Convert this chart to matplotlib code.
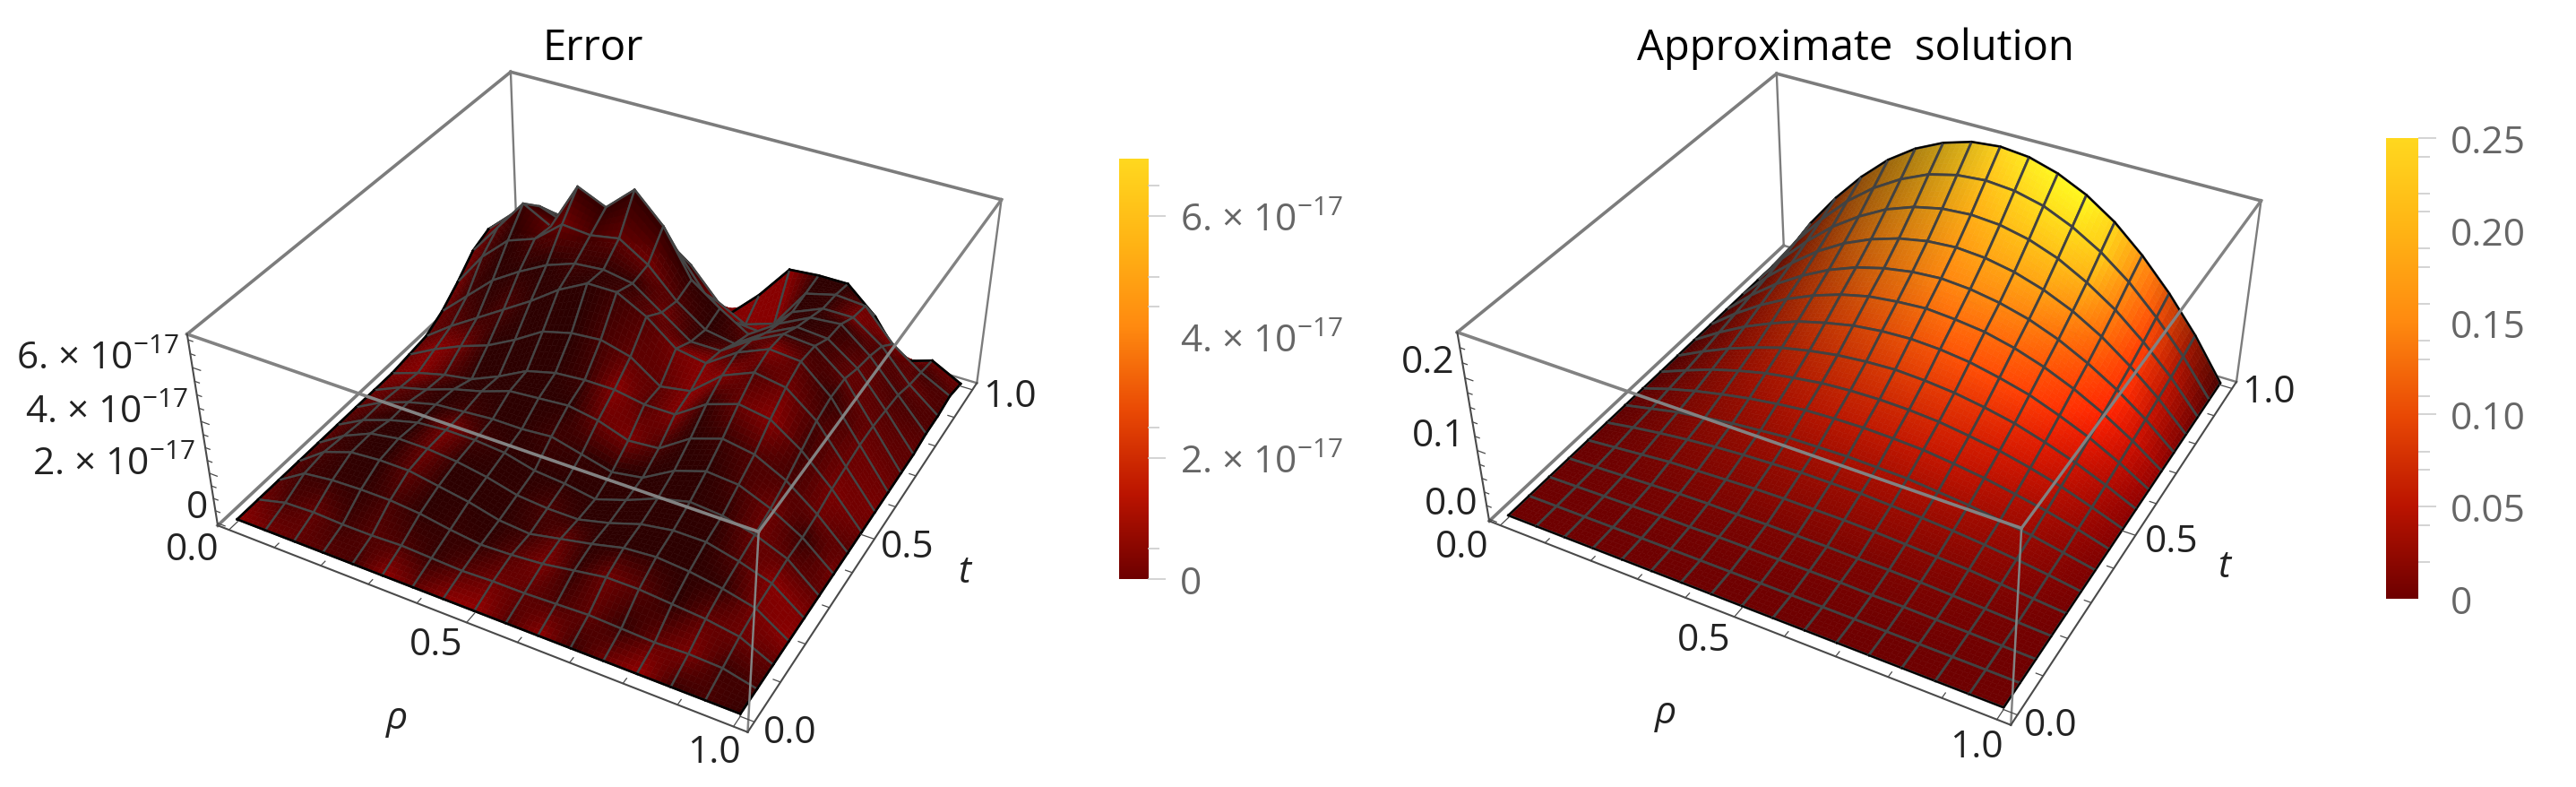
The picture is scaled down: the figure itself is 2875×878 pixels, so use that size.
import numpy as np
import matplotlib
matplotlib.use('Agg')
import matplotlib.pyplot as plt
from matplotlib.colors import LinearSegmentedColormap, to_rgb

plt.rcParams['font.family'] = ['Open Sans', 'DejaVu Sans']
plt.rcParams['mathtext.fontset'] = 'custom'
plt.rcParams['mathtext.rm'] = 'Open Sans'
plt.rcParams['mathtext.it'] = 'Open Sans:italic'
plt.rcParams['mathtext.default'] = 'regular'

W, H = 2875, 879

# grid of the two surfaces
rho = [i / 16 for i in range(17)]
tt = [i / 16 for i in range(17)]

# error surface in units of 1e-17, rows go with t, columns with rho
error_z = [
    [.00, .00, .00, .00, .00, .00, .00, .00, .00, .00, .00, .00, .00, .00, .00, .00, .00],
    [.00, .30, .35, .30, .30, .35, .30, .25, .30, .30, .35, .40, .35, .30, .35, .30, .00],
    [.00, .70, .85, .90, .90, .80, .60, .45, .50, .60, .80, 1.0, 1.0, .90, .80, .60, .00],
    [.00, .80, 1.2, 1.3, 1.3, 1.1, .90, .60, .50, .75, 1.0, 1.3, 1.4, 1.3, 1.1, .80, .00],
    [.00, .70, 1.2, 1.4, 1.4, 1.3, 1.1, .80, .70, .70, 1.0, 1.4, 1.6, 1.6, 1.3, .90, .00],
    [.00, .60, 1.0, 1.3, 1.4, 1.4, 1.3, 1.0, .90, .70, 1.1, 1.6, 1.9, 1.8, 1.5, 1.0, .00],
    [.00, .60, 1.0, 1.3, 1.4, 1.5, 1.5, 1.6, 1.3, 1.0, 1.2, 1.9, 2.3, 2.2, 1.7, 1.0, .00],
    [.00, .50, .80, 1.2, 1.5, 1.9, 2.0, 2.1, 1.9, 1.5, 1.6, 2.4, 2.8, 2.6, 2.0, 1.1, .00],
    [.00, .40, .70, .90, 1.4, 2.0, 2.3, 2.4, 2.4, 2.2, 2.2, 3.0, 3.4, 3.2, 2.4, 1.3, .00],
    [.10, .70, 1.2, 1.6, 2.2, 2.9, 3.2, 3.3, 3.0, 2.2, 2.4, 3.4, 3.9, 3.7, 2.8, 1.4, .00],
    [.20, 1.0, 1.7, 2.4, 3.1, 3.9, 4.5, 4.5, 3.9, 3.0, 2.8, 3.6, 4.1, 4.0, 3.0, 1.5, .00],
    [.60, 1.6, 2.6, 3.3, 3.9, 4.3, 4.4, 4.2, 3.4, 2.6, 2.6, 3.4, 4.0, 3.9, 3.0, 1.5, .00],
    [1.2, 2.6, 3.6, 4.0, 4.9, 4.8, 5.0, 4.3, 3.2, 2.4, 2.2, 3.0, 3.6, 3.5, 2.7, 1.4, .00],
    [1.9, 3.2, 4.5, 3.9, 5.8, 5.3, 6.3, 5.2, 3.4, 2.6, 1.9, 2.7, 3.3, 3.4, 2.5, 1.3, .10],
    [2.2, 3.2, 3.8, 3.4, 4.4, 4.0, 4.4, 3.6, 2.2, 1.4, 1.3, 2.5, 3.0, 3.0, 2.2, 1.0, .10],
    [2.0, 2.6, 2.9, 2.8, 3.2, 3.0, 3.2, 2.4, 1.2, .60, 1.0, 2.6, 2.9, 2.8, 1.6, .80, .20],
    [.90, 1.0, 1.2, 1.5, 1.8, 2.0, 1.5, .50, .05, 1.2, 2.6, 2.7, 2.7, 1.7, .20, .60, .00],
]

# brightness of the dark red blotches on the error surface, 0 dark .. 1 bright
error_shade = [
    [.90, .70, .60, .50, .40, .90, .60, .90, .95, .50, .90, .30, .70, .95, .30, .40, .20],
    [.70, .40, .60, .30, .50, .40, .20, .50, .70, .60, .40, .60, .20, .60, .80, .30, .40],
    [.50, .30, .20, .15, .40, .10, .20, .15, .50, .80, .20, .70, .50, .10, .60, .70, .60],
    [.50, .35, .15, .10, .60, .10, .10, .10, .30, .60, .10, .10, .10, .10, .20, .80, .95],
    [.60, .20, .10, .10, .70, .10, .10, .15, .40, .10, .10, .10, .10, .10, .50, .90, .80],
    [.50, .30, .10, .10, .80, .30, .10, .10, .10, .10, .10, .10, .10, .20, .70, .50, .60],
    [.60, .50, .30, .10, .30, .10, .10, .30, .20, .10, .05, .10, .10, .40, .70, .20, .80],
    [.70, .60, .30, .10, .10, .10, .10, .10, .70, .80, .40, .10, .30, .50, .40, .70, .50],
    [.80, .90, .50, .10, .10, .10, .10, .30, .90, .50, .90, .20, .70, .90, .30, .80, .70],
    [.70, .90, .70, .10, .10, .10, .05, .40, .60, .60, .90, .90, .50, .70, .40, .70, .80],
    [.60, .50, .20, .40, .10, .10, .10, .30, .50, .80, .90, .20, .90, .50, .20, .70, .70],
    [.70, .30, .10, .10, .10, .30, .20, .20, .70, .20, .50, .80, .20, .30, .60, .60, .60],
    [.80, .40, .10, .40, .70, .40, .60, .70, .40, .10, .30, .50, .10, .30, .60, .50, .60],
    [.70, .50, .30, .70, .20, .10, .10, .10, .10, .10, .60, .30, .10, .20, .50, .40, .50],
    [.80, .60, .20, .10, .10, .10, .10, .10, .70, .80, .90, .10, .20, .80, .40, .60, .40],
    [.70, .50, .20, .10, .10, .10, .20, .10, .80, .90, .90, .10, .20, .70, .90, .30, .50],
    [.70, .70, .20, .10, .10, .10, .50, .70, .90, .90, .90, .10, .10, .50, .90, .70, .70],
]

# approximate solution, rows go with t, columns with rho
approx_z = [
    [0, 0, 0, 0, 0, 0, 0, 0, 0, 0, 0, 0, 0, 0, 0, 0, 0],
    [0, .0003, .0005, .0007, .0009, .001, .0011, .0012, .0012, .0012, .0011, .001, .0009, .0007, .0005, .0003, 0],
    [0, .001, .002, .003, .004, .004, .005, .005, .005, .005, .005, .004, .004, .003, .002, .001, 0],
    [0, .002, .004, .006, .008, .009, .009, .010, .010, .010, .009, .009, .008, .006, .004, .002, 0],
    [0, .004, .008, .012, .014, .016, .018, .019, .019, .019, .018, .016, .014, .012, .008, .004, 0],
    [0, .007, .013, .018, .022, .025, .027, .029, .029, .029, .027, .025, .022, .018, .013, .007, 0],
    [0, .009, .018, .024, .030, .034, .038, .039, .040, .039, .038, .034, .030, .024, .018, .009, 0],
    [0, .013, .024, .033, .041, .047, .052, .054, .055, .054, .052, .047, .041, .033, .024, .013, 0],
    [0, .016, .031, .043, .053, .060, .066, .069, .070, .069, .066, .060, .053, .043, .031, .016, 0],
    [0, .020, .038, .053, .066, .075, .082, .086, .088, .086, .082, .075, .066, .053, .038, .020, 0],
    [0, .025, .047, .065, .081, .092, .101, .106, .108, .106, .101, .092, .081, .065, .047, .025, 0],
    [0, .030, .056, .078, .096, .110, .120, .125, .128, .125, .120, .110, .096, .078, .056, .030, 0],
    [0, .035, .065, .090, .111, .127, .138, .145, .148, .145, .138, .127, .111, .090, .065, .035, 0],
    [0, .040, .074, .104, .128, .146, .159, .167, .170, .167, .159, .146, .128, .104, .074, .040, 0],
    [0, .046, .085, .119, .146, .168, .183, .192, .195, .192, .183, .168, .146, .119, .085, .046, 0],
    [0, .052, .097, .136, .167, .191, .209, .219, .2225, .219, .209, .191, .167, .136, .097, .052, 0],
    [0, .059, .109, .152, .188, .215, .234, .246, .250, .246, .234, .215, .188, .152, .109, .059, 0],
]

xy_ticks = [i / 10 for i in range(11)]
error_z_ticks = [i / 2 for i in range(15)]
approx_z_ticks = [i / 50 for i in range(13)]

# box corners on the picture, pixels: (0,0,low) (1,0,low) (1,1,low) (0,1,low), then the same at the top
error_box_px = [(243, 587), (835, 818), (1090, 428), (577, 275),
                (209, 374), (846, 594), (1118, 224), (570, 81)]
approx_box_px = [(1661, 582), (2245, 810), (2495, 427), (1992, 275),
                 (1627, 372), (2256, 590), (2524, 225), (1982, 83)]

colorbar_colors = ['#6e0000', '#bb1400', '#ea4a05', '#ff8a10', '#ffb415', '#ffd81f']
hot = LinearSegmentedColormap.from_list('hot_sun', colorbar_colors)

PAD = 0.025
SUB = 6
TICK_SIZE = 30.5


def fit_camera(ax, box_px, zlim):
    # direct linear transform from the box corners to the axes' view coordinates
    px = np.array(box_px, float)
    view = ax.transData.inverted().transform(np.column_stack([px[:, 0], H - px[:, 1]]))
    corners = [(0, 0, 0), (1, 0, 0), (1, 1, 0), (0, 1, 0),
               (0, 0, 1), (1, 0, 1), (1, 1, 1), (0, 1, 1)]
    rows = []
    for (x, y, z), (u, v) in zip(corners, view):
        rows.append([x, y, z, 1, 0, 0, 0, 0, -u * x, -u * y, -u * z, -u])
        rows.append([0, 0, 0, 0, x, y, z, 1, -v * x, -v * y, -v * z, -v])
    P = np.linalg.svd(np.array(rows))[2][-1].reshape(3, 4)
    if P[2] @ np.array([.5, .5, .5, 1]) < 0:
        P = -P
    span = 1 + 2 * PAD
    to_unit = np.array([[1 / span, 0, 0, PAD / span],
                        [0, 1 / span, 0, PAD / span],
                        [0, 0, 1 / (zlim[1] - zlim[0]), -zlim[0] / (zlim[1] - zlim[0])],
                        [0, 0, 0, 1]])
    P = P @ to_unit
    # third row only has to keep the depth order: farther means bigger
    return np.array([P[0], P[1], [0, 0, 0, -1], P[2]])


def patch_values(c00, c01, c10, c11):
    s = np.linspace(0, 1, SUB + 1)
    S, T = np.meshgrid(s, s)
    return (1 - S) * (1 - T) * c00 + S * (1 - T) * c01 + (1 - S) * T * c10 + S * T * c11


def draw_surface(ax, z, rgb, mesh_color, mesh_lw, edge_lw):
    x = np.array(rho)
    y = np.array(tt)
    z = np.array(z)
    n = 17
    order = 10
    # far corner first, the painter's order is right for a height field seen from here
    for i in range(n - 2, -1, -1):
        for j in range(n - 1):
            X = patch_values(x[j], x[j + 1], x[j], x[j + 1])
            Y = patch_values(y[i], y[i], y[i + 1], y[i + 1])
            Z = patch_values(z[i, j], z[i, j + 1], z[i + 1, j], z[i + 1, j + 1])
            C = np.stack([patch_values(rgb[i, j, k], rgb[i, j + 1, k], rgb[i + 1, j, k], rgb[i + 1, j + 1, k])
                          for k in range(3)], axis=-1)
            ax.plot_surface(X, Y, Z, facecolors=np.clip(C, 0, 1), shade=False, rstride=1, cstride=1,
                            linewidth=0.4, zorder=order)
            lx = [x[j], x[j + 1], x[j + 1], x[j], x[j]]
            ly = [y[i], y[i], y[i + 1], y[i + 1], y[i]]
            lz = [z[i, j], z[i, j + 1], z[i + 1, j + 1], z[i + 1, j], z[i, j]]
            ax.plot(lx, ly, lz, color=mesh_color, lw=mesh_lw, zorder=order + 0.5, solid_joinstyle='round')
            # black rim where the patch is on the border of the surface
            for a, b, on_edge in [(0, 1, i == 0), (1, 2, j == n - 2), (2, 3, i == n - 2), (3, 4, j == 0)]:
                if on_edge:
                    ax.plot(lx[a:b + 1], ly[a:b + 1], lz[a:b + 1], color='black', lw=edge_lw, zorder=order + 0.6)
            order += 1
    return order


def draw_box(ax, zlim, z_ticks, z_major, top_order):
    lo, hi = -PAD, 1 + PAD
    z0, z1 = zlim
    back = '#7c7c7c'
    front = '#828282'
    axis = '#4a4a4a'
    # edges behind the surface
    ax.plot([lo, lo], [hi, hi], [z0, z1], color=back, lw=1.7, zorder=1)
    ax.plot([lo, hi], [hi, hi], [z1, z1], color=back, lw=2.6, zorder=1)
    ax.plot([lo, lo], [lo, hi], [z1, z1], color=back, lw=2.6, zorder=1)
    ax.plot([lo, lo], [lo, hi], [z0, z0], color=back, lw=2.6, zorder=1)
    ax.plot([lo, hi], [hi, hi], [z0, z0], color=back, lw=1.7, zorder=1)
    ax.plot([hi, hi], [hi, hi], [z0, z1], color=back, lw=1.7, zorder=1)
    # edges in front of it
    ax.plot([lo, hi], [lo, lo], [z1, z1], color=front, lw=2.6, zorder=top_order)
    ax.plot([hi, hi], [lo, hi], [z1, z1], color=front, lw=2.4, zorder=top_order)
    ax.plot([hi, hi], [lo, lo], [z0, z1], color=front, lw=1.8, zorder=top_order)
    # the three axes with ticks
    ax.plot([lo, hi], [lo, lo], [z0, z0], color=axis, lw=1.5, zorder=top_order)
    ax.plot([hi, hi], [lo, hi], [z0, z0], color=axis, lw=1.5, zorder=top_order)
    ax.plot([lo, lo], [lo, lo], [z0, z1], color=axis, lw=1.5, zorder=top_order)
    for v in xy_ticks:
        length = 0.026 if v in (0.0, 0.5, 1.0) else 0.013
        ax.plot([v, v], [lo, lo + length], [z0, z0], color=axis, lw=0.9, zorder=top_order)
        ax.plot([hi, hi - length], [v, v], [z0, z0], color=axis, lw=0.9, zorder=top_order)
    for v in z_ticks:
        length = 0.017 if v in z_major else 0.01
        ax.plot([lo, lo + length], [lo, lo], [v, v], color=axis, lw=0.9, zorder=top_order)


def make_axes(fig, box_px, zlim):
    ax = fig.add_axes([0, 0, 1, 1], projection='3d', proj_type='ortho', computed_zorder=False)
    ax.apply_aspect = lambda position=None: None
    ax.set_axis_off()
    ax.patch.set_visible(False)
    ax.set_xlim(-PAD, 1 + PAD)
    ax.set_ylim(-PAD, 1 + PAD)
    ax.set_zlim(*zlim)
    ax.autoscale(False)
    M = fit_camera(ax, box_px, zlim)
    ax.get_proj = lambda: M
    return ax


def put(fig, x, y, s, size=TICK_SIZE, color='#222222', **kw):
    kw.setdefault('ha', 'center')
    kw.setdefault('va', 'center')
    fig.text(x / W, 1 - y / H, s, fontsize=size, color=color, **kw)


def colorbar(fig, box, vmax, majors, major_labels, hidden, minors):
    x0, y0, x1, y1 = box
    cax = fig.add_axes([x0 / W, 1 - y1 / H, (x1 - x0) / W, (y1 - y0) / H])
    cax.imshow(np.linspace(1, 0, 256)[:, None], aspect='auto', cmap=hot, extent=[0, 1, 0, vmax])
    cax.set_xticks([])
    for spine in cax.spines.values():
        spine.set_visible(False)
    cax.yaxis.tick_right()
    cax.set_yticks(majors)
    cax.set_yticklabels(major_labels, fontsize=TICK_SIZE, color='#666666')
    cax.set_yticks(minors, minor=True)
    cax.tick_params(axis='y', which='major', length=14.6, width=1.1, color='#c8c8c8', pad=11.5)
    cax.tick_params(axis='y', which='minor', length=9.4, width=1.1, color='#c8c8c8')
    for k in hidden:
        cax.yaxis.get_major_ticks()[k].tick2line.set_visible(False)


fig = plt.figure(figsize=(W / 100, H / 100), dpi=100)

# left panel
zlim_err = (-0.1, 7.2)
ax1 = make_axes(fig, error_box_px, zlim_err)
shade = np.array(error_shade)[..., None] ** 1.4
dark, bright = np.array(to_rgb('#280000')), np.array(to_rgb('#960000'))
err_rgb = dark + shade * (bright - dark)
top = draw_surface(ax1, error_z, err_rgb, '#454545', 1.7, 1.9)
draw_box(ax1, zlim_err, error_z_ticks, [0, 2, 4, 6], top)

# right panel
zlim_app = (-0.003, 0.26)
ax2 = make_axes(fig, approx_box_px, zlim_app)
z_app = np.array(approx_z)
slope = np.gradient(z_app, np.array(rho), axis=1) / (zlim_app[1] - zlim_app[0]) * 0.4
sine = np.abs(slope) / np.sqrt(1 + slope ** 2)
light = np.where(slope > 0, 1 - 0.65 * sine, np.interp(sine, [0, .55, .72, .85], [1.0, 1.35, 1.0, .5]))
app_rgb = hot(z_app / 0.25)[..., :3] * light[..., None]
top = draw_surface(ax2, approx_z, app_rgb, '#424242', 2.0, 1.4)
draw_box(ax2, zlim_app, approx_z_ticks, [0, 0.1, 0.2], top)

# titles and axis text
put(fig, 662, 54, 'Error', size=34, color='black')
put(fig, 2071, 54, 'Approximate  solution', size=34, color='black')

put(fig, 200, 412, '6. × 10$^{-17}$', ha='right', va='baseline')
put(fig, 210, 472, '4. × 10$^{-17}$', ha='right', va='baseline')
put(fig, 218, 530, '2. × 10$^{-17}$', ha='right', va='baseline')
put(fig, 220, 567, '0')
put(fig, 215, 614, '0.0')
put(fig, 487, 720, '0.5')
put(fig, 797, 840, '1.0')
put(fig, 882, 818, '0.0')
put(fig, 1013, 611, '0.5')
put(fig, 1127, 443, '1.0')
put(fig, 443, 802, 'ρ', style='italic')
put(fig, 1076, 639, 't', style='italic')

put(fig, 1594, 405, '0.2')
put(fig, 1606, 487, '0.1')
put(fig, 1620, 563, '0.0')
put(fig, 1632, 611, '0.0')
put(fig, 1902, 715, '0.5')
put(fig, 2206, 834, '1.0')
put(fig, 2289, 810, '0.0')
put(fig, 2424, 605, '0.5')
put(fig, 2532, 438, '1.0')
put(fig, 1859, 796, 'ρ', style='italic')
put(fig, 2482, 633, 't', style='italic')

# colour scales
colorbar(fig, (1249, 178, 1281, 647), 6.95, [0, 2, 4, 6],
         ['0', '2. × 10$^{-17}$', '4. × 10$^{-17}$', '6. × 10$^{-17}$'], [2],
         [0.5, 2.5, 4.5, 5, 6.5])
colorbar(fig, (2663, 155, 2699, 669), 0.25, [0, .05, .10, .15, .20, .25],
         ['0', '0.05', '0.10', '0.15', '0.20', '0.25'], [0, 3, 4],
         [.02, .04, .07, .08, .11, .13, .14, .16, .18, .19, .21, .22, .24])

fig.savefig('out.png', dpi=100)
